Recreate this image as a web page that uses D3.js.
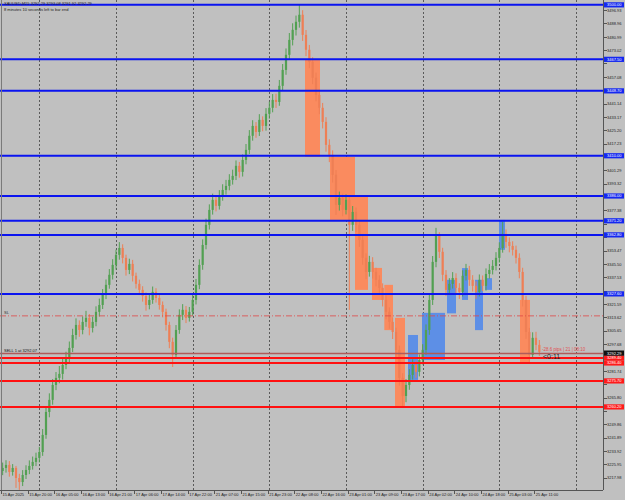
<!DOCTYPE html>
<html>
<head>
<meta charset="utf-8">
<script src="https://cdn.jsdelivr.net/npm/d3@7"></script>
<style>
body { margin: 0; background: #c0c0c0; }
svg { display: block; font-family: "Liberation Sans", Arial, sans-serif; }
.axis path, .axis line { stroke: #555; shape-rendering: crispEdges; }
.axis text { fill: #222; font-size: 4px; }
</style>
</head>
<body>
<script>
// H1 closes, highs, lows
var closes = [3223.8,3225.6,3221.4,3223.8,3217.8,3215.4,3219.6,3222.6,3225.0,3227.4,3229.8,3233.3,3243.5,3257.2,3264.4,3273.3,3277.5,3279.9,3285.2,3289.4,
3295.4,3303.1,3309.1,3306.1,3310.9,3313.3,3307.3,3310.9,3316.9,3321.0,3327.0,3333.0,3339.0,3344.9,3350.9,3355.0,3349.1,3341.9,3345.5,3338.4,
3333.6,3330.0,3326.4,3321.0,3324.0,3328.8,3325.2,3321.0,3316.9,3309.1,3299.0,3291.2,3306.1,3315.1,3318.1,3313.3,3316.9,3324.0,3333.0,3344.9,
3356.8,3368.8,3377.7,3383.7,3380.1,3386.1,3389.6,3392.0,3395.6,3398.0,3404.0,3400.4,3407.5,3413.5,3421.9,3427.8,3424.2,3431.4,3427.8,3435.0,
3438.6,3443.3,3442.1,3451.7,3461.2,3470.2,3479.1,3485.1,3489.9,3494.1,3482.1,3473.2,3466.0,3456.5,3446.3,3438.6,3430.2,3416.5,3410.5,3398.6,
3380.7,3384.9,3377.7,3383.7,3368.8,3376.5,3368.8,3359.8,3349.1,3340.7,3346.7,3340.7,3336.0,3331.2,3324.0,3316.9,3310.9,3304.9,3294.2,3277.5,
3266.7,3273.3,3279.3,3285.2,3281.1,3288.2,3294.2,3306.1,3324.0,3346.7,3362.2,3352.7,3339.0,3330.0,3333.6,3337.1,3331.2,3328.8,3338.4,3341.9,
3336.0,3332.4,3328.8,3336.0,3332.4,3339.5,3341.9,3344.3,3349.1,3355.0,3363.4,3358.6,3356.2,3353.9,3349.1,3340.7,3324.0,3304.9,3291.2,3301.4,
3297.2,3293.0];
var highs = [3227.0,3228.4,3227.9,3226.1,3225.0,3220.3,3222.5,3225.4,3228.3,3230.6,3232.9,3236.4,3247.0,3260.1,3268.3,3276.8,3281.0,3284.6,3289.0,3293.1,
3299.2,3306.8,3313.0,3311.8,3314.2,3317.5,3315.6,3314.0,3320.2,3324.8,3330.5,3336.2,3342.4,3348.3,3354.0,3358.5,3357.2,3351.0,3348.6,3347.9,
3340.3,3336.1,3332.2,3328.5,3327.3,3332.0,3331.0,3327.5,3323.1,3318.8,3311.0,3301.5,3309.0,3318.4,3321.5,3320.4,3319.8,3327.2,3336.5,3348.2,
3360.1,3372.5,3381.0,3387.4,3386.0,3389.5,3393.0,3395.6,3399.0,3401.7,3407.2,3406.3,3410.8,3417.0,3425.3,3431.2,3430.1,3434.8,3433.5,3438.4,
3442.3,3446.8,3447.0,3455.2,3464.7,3474.0,3483.2,3489.0,3493.6,3500.0,3496.8,3485.0,3476.1,3468.8,3459.6,3449.4,3441.5,3433.0,3419.8,3413.2,
3401.5,3388.6,3387.4,3387.0,3386.2,3380.0,3379.1,3371.4,3362.5,3351.8,3350.3,3349.5,3343.2,3338.7,3333.9,3326.8,3319.6,3313.5,3307.4,3296.8,
3280.3,3276.8,3282.7,3288.6,3287.9,3291.5,3297.6,3309.4,3327.6,3350.2,3367.0,3364.4,3355.1,3341.8,3337.0,3340.6,3339.9,3334.0,3341.7,3345.5,
3344.3,3338.8,3335.1,3339.2,3338.6,3342.8,3345.4,3347.8,3352.5,3358.4,3370.6,3366.0,3361.3,3359.0,3356.4,3351.8,3343.2,3326.5,3307.3,3304.7,
3305.0,3300.1];
var lows = [3219.5,3221.0,3218.6,3219.2,3211.9,3210.7,3213.0,3217.2,3220.1,3222.8,3224.9,3227.1,3231.0,3241.2,3254.0,3261.5,3270.2,3274.3,3276.5,3282.7,
3286.0,3292.9,3300.4,3302.0,3303.5,3308.0,3302.9,3304.6,3308.3,3314.1,3318.6,3324.5,3330.7,3336.2,3342.1,3348.0,3345.8,3338.5,3339.4,3335.0,
3330.8,3326.9,3323.0,3317.6,3318.4,3321.7,3322.4,3318.2,3313.6,3305.7,3295.2,3284.0,3289.0,3303.8,3312.0,3310.2,3311.1,3314.6,3321.3,3330.4,
3342.0,3354.2,3366.0,3374.9,3376.8,3377.9,3383.2,3386.8,3389.4,3392.8,3395.5,3396.9,3397.6,3404.9,3411.0,3419.0,3420.7,3421.8,3424.6,3425.0,
3432.1,3435.9,3438.5,3439.8,3449.0,3458.3,3467.5,3475.8,3481.7,3486.4,3478.5,3469.4,3462.2,3452.7,3442.5,3434.8,3426.3,3412.4,3406.2,3394.0,
3374.7,3377.3,3373.9,3375.0,3318.1,3365.2,3364.5,3355.6,3345.0,3336.4,3337.9,3336.8,3332.1,3327.4,3320.1,3312.5,3306.8,3300.7,3289.6,3272.9,
3259.6,3263.0,3270.4,3276.5,3277.6,3278.4,3285.5,3291.3,3303.2,3321.0,3343.5,3349.0,3335.2,3326.3,3327.2,3330.8,3327.5,3324.6,3326.0,3335.6,
3332.4,3329.0,3324.7,3326.1,3329.3,3329.6,3336.7,3339.2,3341.6,3346.3,3352.2,3355.1,3352.4,3350.5,3345.7,3336.9,3320.1,3300.8,3287.0,3289.5,
3294.0,3290.6];
var firstOpen = 3222.0;

// time axis labels, one every 8 H1 bars
var timeLabels = ["15 Apr 2025","15 Apr 20:00","16 Apr 05:00","16 Apr 13:00","16 Apr 21:00","17 Apr 06:00","17 Apr 14:00",
"17 Apr 22:00","21 Apr 07:00","21 Apr 15:00","21 Apr 23:00","22 Apr 08:00","22 Apr 16:00","23 Apr 01:00","23 Apr 09:00",
"23 Apr 17:00","24 Apr 02:00","24 Apr 10:00","24 Apr 18:00","25 Apr 03:00","25 Apr 11:00"];
var timeLabelIdx = [0,8,16,24,32,40,48,56,64,72,80,88,96,104,112,120,128,136,144,152,160];
var gridIdx = [11.5,34.5,57.5,80.5,103.5,126.5,149.5,172.5];

// price axis labels
var priceTicks = [3217.98,3225.95,3233.92,3241.89,3249.86,3257.83,3265.80,3273.77,3281.74,3289.71,3297.68,3305.65,
3313.62,3321.59,3329.56,3337.53,3345.50,3353.47,3361.44,3369.41,3377.38,3385.35,3393.32,3401.29,3409.26,3417.23,
3425.20,3433.17,3441.14,3449.11,3457.08,3465.05,3473.02,3480.99,3488.96,3496.93];

// horizontal levels
var blueLevels = [3500.00,3467.50,3448.70,3410.00,3386.00,3371.20,3362.80,3327.60];
var redLevels = [3289.40,3286.40,3275.70,3260.20];
var bidPrice = 3292.29;
var sellPrice = 3292.07;
var slPrice = 3314.5;

// zones: [fromIdx, toIdx, top, bottom]
var sellZones = [[91.2,95.7,3467.2,3409.3],[98.7,106.2,3409.3,3371.7],[106.2,110.1,3386.1,3330.0],
[111.3,114.3,3343.1,3324.0],[115.0,117.6,3333.0,3306.0],[118.2,121.2,3313.3,3259.6],[155.7,158.7,3324.0,3287.0]];
var buyZones = [[122.1,125.1,3303.1,3276.3],[126.3,133.2,3316.3,3288.2],[133.8,136.5,3336.0,3316.0],
[138.3,140.1,3343.0,3324.0],[142.2,144.6,3336.0,3306.0],[145.2,147.3,3337.0,3330.0],[149.4,151.2,3371.7,3353.9]];

var width = 625, height = 500;
var plotRight = 603, plotBottom = 490;

var x = d3.scaleLinear().domain([0, 162]).range([1, 541]);
var y = d3.scaleLinear().domain([3217.98, 3496.93]).range([477.7, 10]);

var svg = d3.select("body").append("svg")
  .attr("width", width)
  .attr("height", height);

svg.append("rect").attr("width", width).attr("height", height).attr("fill", "#c0c0c0");

var defs = svg.append("defs");
defs.append("clipPath").attr("id", "plot")
  .append("rect").attr("x", 0).attr("y", 0).attr("width", plotRight).attr("height", plotBottom);

var plot = svg.append("g").attr("clip-path", "url(#plot)");

// vertical grid
plot.selectAll("line.grid").data(gridIdx).enter().append("line")
  .attr("class", "grid")
  .attr("x1", function(d) { return Math.round(x(d)) + 0.5; })
  .attr("x2", function(d) { return Math.round(x(d)) + 0.5; })
  .attr("y1", 0).attr("y2", plotBottom)
  .attr("stroke", "#5a5a5a").attr("stroke-width", 1).attr("stroke-dasharray", "2,2");

// zones
function drawZones(data, color) {
  plot.append("g").selectAll("rect").data(data).enter().append("rect")
    .attr("x", function(d) { return x(d[0]); })
    .attr("width", function(d) { return x(d[1]) - x(d[0]); })
    .attr("y", function(d) { return y(d[2]); })
    .attr("height", function(d) { return y(d[3]) - y(d[2]); })
    .attr("fill", color);
}
drawZones(sellZones, "#fa8b5f");
drawZones(buyZones, "#5d8fe6");

// candles
var candles = closes.map(function(c, i) {
  return { i: i, open: i == 0 ? firstOpen : closes[i - 1], high: highs[i], low: lows[i], close: c };
});
var upColor = "#52a052", downColor = "#ee7f55";
var cg = plot.append("g");
cg.selectAll("line").data(candles).enter().append("line")
  .attr("x1", function(d) { return x(d.i + 0.5); })
  .attr("x2", function(d) { return x(d.i + 0.5); })
  .attr("y1", function(d) { return y(d.high); })
  .attr("y2", function(d) { return y(d.low); })
  .attr("stroke", function(d) { return d.close >= d.open ? upColor : downColor; })
  .attr("stroke-width", 1);
cg.selectAll("rect").data(candles).enter().append("rect")
  .attr("x", function(d) { return x(d.i + 0.5) - 1.1; })
  .attr("width", 2.2)
  .attr("y", function(d) { return y(Math.max(d.open, d.close)); })
  .attr("height", function(d) { return Math.max(1, Math.abs(y(d.open) - y(d.close))); })
  .attr("fill", function(d) { return d.close >= d.open ? upColor : downColor; });

// level lines
plot.append("line")
  .attr("x1", 0).attr("x2", plotRight)
  .attr("y1", y(slPrice)).attr("y2", y(slPrice))
  .attr("stroke", "#e04848").attr("stroke-width", 0.8).attr("stroke-dasharray", "6,2,1,2");
plot.append("line")
  .attr("x1", 0).attr("x2", plotRight)
  .attr("y1", y(sellPrice)).attr("y2", y(sellPrice))
  .attr("stroke", "#b05a5a").attr("stroke-width", 1.3);
plot.selectAll("line.blue").data(blueLevels).enter().append("line")
  .attr("class", "blue")
  .attr("x1", 0).attr("x2", plotRight)
  .attr("y1", function(d) { return y(d); }).attr("y2", function(d) { return y(d); })
  .attr("stroke", "#0a14f0").attr("stroke-width", 2);
plot.selectAll("line.red").data(redLevels).enter().append("line")
  .attr("class", "red")
  .attr("x1", 0).attr("x2", plotRight)
  .attr("y1", function(d) { return y(d); }).attr("y2", function(d) { return y(d); })
  .attr("stroke", "#ff1010").attr("stroke-width", 2);

// texts on the chart
plot.append("text").attr("x", 4).attr("y", 5).attr("font-size", 4).attr("fill", "#222")
  .text("XAUUSD,M15  3292.29 3293.08 3291.92 3292.29");
plot.append("text").attr("x", 4).attr("y", 10.5).attr("font-size", 4).attr("fill", "#222")
  .text("8 minutes 10 seconds left to bar end");
plot.append("text").attr("x", 4).attr("y", y(slPrice) - 1.5).attr("font-size", 4).attr("fill", "#333")
  .text("SL");
plot.append("text").attr("x", 4).attr("y", y(sellPrice) - 1.5).attr("font-size", 4).attr("fill", "#111")
  .text("SELL 1 at 3292.07");
plot.append("text").attr("x", x(162) + 1).attr("y", y(sellPrice) - 2).attr("font-size", 4.5).attr("fill", "#e05050")
  .text("-28.6 pips | 21 | 08:10");
plot.append("text").attr("x", x(162) + 2).attr("y", y(sellPrice) + 6).attr("font-size", 7).attr("fill", "#222")
  .text("<0:11");

// left border
svg.append("line").attr("x1", 1.5).attr("x2", 1.5).attr("y1", 0).attr("y2", plotBottom)
  .attr("stroke", "#7a7a7a").attr("stroke-width", 1);

// axes
var boxPrices = blueLevels.concat(redLevels, [bidPrice]);
var yAxis = d3.axisRight(y).tickValues(priceTicks).tickSize(3).tickFormat(d3.format(".2f"));
svg.append("g").attr("class", "axis")
  .attr("transform", "translate(" + (plotRight + 0.5) + ",0)")
  .call(yAxis)
  .call(function(g) { g.select(".domain").attr("d", "M0,0V" + plotBottom); })
  .selectAll("text").attr("x", 3.5)
  // labels under a price box are covered by it
  .style("display", function(d) {
    return boxPrices.some(function(p) { return Math.abs(y(p) - y(d)) < 5; }) ? "none" : null;
  });

var xAxis = d3.axisBottom(x).tickValues(timeLabelIdx).tickSize(3)
  .tickFormat(function(d, i) { return timeLabels[i]; });
svg.append("g").attr("class", "axis")
  .attr("transform", "translate(0," + (plotBottom + 0.5) + ")")
  .call(xAxis)
  .call(function(g) { g.select(".domain").attr("d", "M0,0H" + plotRight); })
  .selectAll("text").attr("text-anchor", "start").attr("x", 1).attr("y", 2.5);

// price boxes on the axis
function priceBox(p, color) {
  var g = svg.append("g").attr("transform", "translate(" + (plotRight + 1) + "," + y(p) + ")");
  g.append("rect").attr("x", 0).attr("y", -2.6).attr("width", 20).attr("height", 5.2).attr("fill", color);
  g.append("text").attr("x", 3).attr("y", 1.5).attr("font-size", 4).attr("fill", "#fff")
    .text(d3.format(".2f")(p));
}
blueLevels.forEach(function(p) { priceBox(p, "#1428f0"); });
redLevels.forEach(function(p) { priceBox(p, "#ff1a1a"); });
priceBox(bidPrice, "#111");
</script>
</body>
</html>
